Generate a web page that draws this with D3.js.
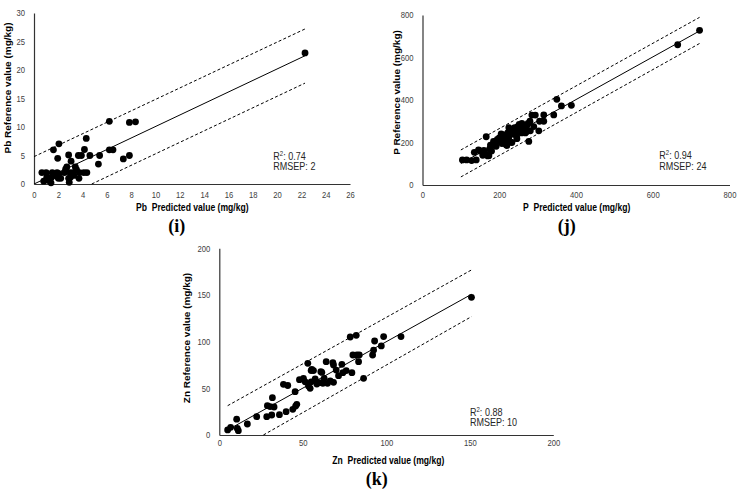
<!DOCTYPE html>
<html><head><meta charset="utf-8">
<script src="https://cdn.jsdelivr.net/npm/d3@7"></script>
<style>
body{margin:0;background:#fff}
svg{display:block}
</style>
</head><body>
<svg id="c" width="744" height="496"></svg>
<script>
// ---------- DATA ----------
// (i) Pb
const pbPredicted = [22.3,6.2,7.85,8.35,4.3,2.05,1.6,4.15,6.2,6.5,2.85,3.65,3.9,4.6,5.4,1.95,5.3,7.35,7.85,3.05,2.7,3.4,2.6,3.5,0.65,1.0,1.5,1.9,2.5,2.95,3.2,3.75,4.1,4.35,1.05,1.45,2.0,2.2,2.85,3.0,3.7,0.8,1.4,2.9,1.7,2.05,3.3,1.2];
const pbReference = [23,11,10.8,10.9,8,7.05,6,6.05,6,6,5.1,5,5,5,5,4.5,3.5,4.4,5,4,3,3,2.6,2.5,2,2,2,2,2,2,2,2,2,2,1.2,1.2,1,1,1,1.2,1,0.5,0.2,0.3,1.5,1.8,1.5,0.6];
const pbFitX = [0, 22.3], pbFitY = [0, 22.5];
const pbUpperX = [0, 22.3], pbUpperY = [4.8, 27.2];
const pbLowerX = [4.75, 22.3], pbLowerY = [0, 17.7];
const pbXTicks = [0,2,4,6,8,10,12,14,16,18,20,22,24,26];
const pbYTicks = [0,5,10,15,20,25,30];
const pbStats = ["0.74", "2"];

// (j) P
const pPredicted = [104,115,128,140,135,146,150,157,160,165,166,170,173,175,177,180,184,185,188,192,195,196,200,203,205,207,210,212,215,216,218,220,222,225,225,228,230,233,235,236,238,240,242,245,246,248,250,252,255,258,259,262,265,268,268,270,272,275,277,280,281,285,290,294,303,305,316,316,342,350,362,388,665,722];
const pReference = [118,118,115,118,154,165,160,140,163,145,227,137,138,170,188,160,190,205,200,182,215,208,222,218,240,195,232,236,225,210,190,186,245,225,270,240,202,200,240,252,260,270,240,230,218,275,268,285,250,245,290,262,255,270,245,250,280,290,205,300,255,329,275,329,255,300,330,300,330,403,372,375,660,728];
const pFitX = [100, 722], pFitY = [101, 725];
const pUpperX = [100, 722], pUpperY = [165, 789];
const pLowerX = [100, 722], pLowerY = [38, 666];
const pXTicks = [0,200,400,600,800];
const pYTicks = [0,200,400,600,800];
const pStats = ["0.94", "24"];

// (k) Zn
const znPredicted = [5,6.8,10.4,10.8,11.4,16.8,22.4,28.4,28.8,31.4,31.8,32.8,36,38.4,40,41,44,45.4,46.4,48,50.4,51.4,53,53.4,54.4,55,55.4,56.4,57.4,58.4,60,61.4,62,62.8,64,64.8,66.4,68.4,68,68.4,70,71.4,73.4,74,76,78.4,79.4,82,80,82.4,83.4,83.8,86.4,91.8,92.4,93,97,98.4,108.8,151,30.4,45.7,55,60.8];
const znReference = [5.4,8.2,17,7,4.6,11.8,19.6,19.6,31.4,21.4,40,30,21.8,54.3,25,53,27.5,46.4,32.9,59.3,60.7,57,76.8,52.5,50,57,70.4,69,60,54.6,56,67,55.4,60.7,78.6,55.4,58,56.4,77.5,75,69.6,63.6,75.7,66.8,69,105,66.8,106.8,85.7,85.7,78.6,85.7,60.7,85.7,91,100.7,95.4,105.4,105.4,147.5,30.4,31,69,67.8];
const znFitX = [5, 151], znFitY = [5.4, 150.7];
const znUpperX = [5, 151], znUpperY = [31.4, 176.8];
const znLowerX = [26.4, 151], znLowerY = [0, 126.8];
const znXTicks = [0,50,100,150,200];
const znYTicks = [0,50,100,150,200];
const znStats = ["0.88", "10"];

// ---------- DRAWING ----------
const svg = d3.select('#c');
const SANS = '"Liberation Sans", Arial, sans-serif';
const SERIF = '"Liberation Serif", "Times New Roman", serif';
const SQ = 0.86; // horizontal squash of the original picture

function zip(a, b) { return a.map((v, i) => [v, b[i]]); }

function drawPanel(p) {
  const g = svg.append('g');
  const x = d3.scaleLinear().domain([0, p.xTicks[p.xTicks.length-1]]).range(p.xRange);
  const y = d3.scaleLinear().domain([0, p.yTicks[p.yTicks.length-1]]).range(p.yRange);

  const ax = g.append('g').attr('transform', `translate(0,${p.yRange[0]})`)
    .call(d3.axisBottom(x).tickValues(p.xTicks).tickSize(0).tickPadding(p.xPad).tickFormat(d3.format('d')));
  const ay = g.append('g').attr('transform', `translate(${p.xRange[0]},0)`)
    .call(d3.axisLeft(y).tickValues(p.yTicks).tickSize(0).tickPadding(10.5).tickFormat(d3.format('d')));
  [ax, ay].forEach(a => {
    a.select('.domain').attr('stroke', '#333').attr('stroke-width', 1.2);
    a.selectAll('text').attr('font-size', 8.9).attr('font-family', SANS).attr('fill', '#404040')
      .attr('transform', `scale(${SQ},1)`);
  });

  const line = d3.line().x(d => x(d[0])).y(d => y(d[1]));
  g.append('path').datum(zip(p.fitX, p.fitY)).attr('d', line)
    .attr('fill', 'none').attr('stroke', '#000').attr('stroke-width', 1);
  [[p.upX, p.upY], [p.loX, p.loY]].forEach(([a, b]) => {
    g.append('path').datum(zip(a, b)).attr('d', line)
      .attr('fill', 'none').attr('stroke', '#000').attr('stroke-width', 1)
      .attr('stroke-dasharray', '3,2.2');
  });

  g.append('g').selectAll('circle').data(zip(p.px, p.py)).join('circle')
    .attr('cx', d => x(d[0])).attr('cy', d => y(d[1])).attr('r', 3.4).attr('fill', '#000');

  // axis titles
  g.append('text').attr('transform', `translate(${p.yTitle[0]},${p.yTitle[1]}) rotate(-90) scale(1,${SQ})`)
    .attr('text-anchor', 'middle').attr('dy', '0.35em')
    .attr('font-family', SANS).attr('font-weight', 'bold').attr('font-size', 10)
    .text(p.el + ' Reference value (mg/kg)');
  g.append('text').attr('transform', `translate(${p.xTitle[0]},${p.xTitle[1]}) scale(${SQ},1)`)
    .attr('text-anchor', 'middle').style('white-space', 'pre')
    .attr('font-family', SANS).attr('font-weight', 'bold').attr('font-size', 10)
    .text(p.el + '  Predicted value (mg/kg)');

  // stats
  const st = g.append('text').attr('transform', `translate(${p.stat[0]},${p.stat[1]}) scale(${SQ},1)`)
    .attr('font-family', SANS).attr('font-size', 10.5).attr('fill', '#262626');
  st.append('tspan').text('R');
  st.append('tspan').attr('font-size', 7).attr('dy', -4).text('2');
  st.append('tspan').attr('dy', 4).text(': ' + p.stats[0]);
  g.append('text').attr('transform', `translate(${p.stat[0]},${p.stat[1] + 10.6}) scale(${SQ},1)`)
    .attr('font-family', SANS).attr('font-size', 10.5).attr('fill', '#262626')
    .text('RMSEP: ' + p.stats[1]);

  // panel label
  g.append('text').attr('x', p.lab[0]).attr('y', p.lab[1]).attr('text-anchor', 'middle')
    .attr('font-family', SERIF).attr('font-weight', 'bold').attr('font-size', 18)
    .text(p.labText);
}

drawPanel({el: 'Pb', px: pbPredicted, py: pbReference, fitX: pbFitX, fitY: pbFitY,
  upX: pbUpperX, upY: pbUpperY, loX: pbLowerX, loY: pbLowerY, xTicks: pbXTicks, yTicks: pbYTicks,
  stats: pbStats, xRange: [34, 350], yRange: [184, 13], xPad: 7.7,
  yTitle: [8.3, 88], xTitle: [192.3, 210.5], stat: [273.3, 159.5], lab: [176.7, 232], labText: '(i)'});

drawPanel({el: 'P', px: pPredicted, py: pReference, fitX: pFitX, fitY: pFitY,
  upX: pUpperX, upY: pUpperY, loX: pLowerX, loY: pLowerY, xTicks: pXTicks, yTicks: pYTicks,
  stats: pStats, xRange: [422.5, 729.5], yRange: [185, 15], xPad: 6.7,
  yTitle: [396.7, 92.5], xTitle: [576.7, 210.5], stat: [659.3, 159.3], lab: [566.7, 232], labText: '(j)'});

drawPanel({el: 'Zn', px: znPredicted, py: znReference, fitX: znFitX, fitY: znFitY,
  upX: znUpperX, upY: znUpperY, loX: znLowerX, loY: znLowerY, xTicks: znXTicks, yTicks: znYTicks,
  stats: znStats, xRange: [219.3, 553.3], yRange: [435, 248.3], xPad: 5,
  yTitle: [187.3, 338], xTitle: [388.3, 463.5], stat: [470, 415.7], lab: [376.7, 485], labText: '(k)'});
</script>
</body></html>
